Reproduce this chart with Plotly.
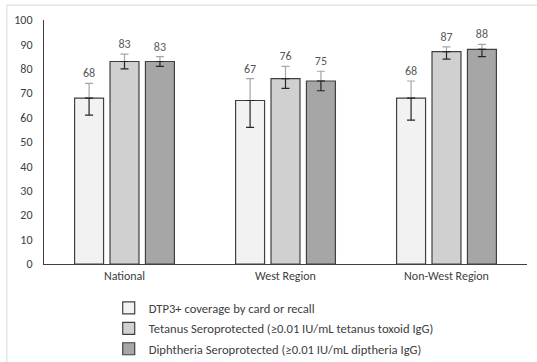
import plotly.graph_objects as go

categories = ["National", "West Region", "Non-West Region"]
series_names = [
    "DTP3+ coverage by card or recall",
    "Tetanus Seroprotected (≥0.01 IU/mL tetanus toxoid IgG)",
    "Diphtheria Seroprotected (≥0.01 IU/mL diptheria IgG)",
]
dtp3 = [68, 67, 68]
dtp3_lo = [61, 56, 59]
dtp3_hi = [74, 76, 75]
tetanus = [83, 76, 87]
tetanus_lo = [80, 72, 84]
tetanus_hi = [86, 81, 89]
diph = [83, 75, 88]
diph_lo = [81, 71, 85]
diph_hi = [85, 79, 90]

values = [dtp3, tetanus, diph]
lows = [dtp3_lo, tetanus_lo, diph_lo]
highs = [dtp3_hi, tetanus_hi, diph_hi]
colors = ["#f2f2f2", "#d0d0d0", "#a6a6a6"]
offsets = [-0.31, -0.09, 0.13]
width = 0.18

FONT = "Carlito, Calibri, Lato, sans-serif"
TXT = "#595959"

fig = go.Figure()
for i in range(3):
    v, lo, hi = values[i], lows[i], highs[i]
    # label carrier (invisible bar up to upper CI)
    fig.add_trace(go.Bar(
        x=categories, y=hi, offset=offsets[i], width=width,
        marker=dict(color="rgba(0,0,0,0)", line=dict(width=0)),
        text=[str(a) for a in v], textposition="outside", cliponaxis=False,
        textfont=dict(family=FONT, size=12, color=TXT),
        showlegend=False, hoverinfo="skip"))
    # upper error part (gray)
    fig.add_trace(go.Bar(
        x=categories, y=v, offset=offsets[i], width=width,
        marker=dict(color="rgba(0,0,0,0)", line=dict(width=0)),
        error_y=dict(type="data", symmetric=False,
                     array=[h - a for h, a in zip(hi, v)],
                     arrayminus=[0] * 3, color="#a6a6a6", thickness=1.2, width=4),
        showlegend=False, hoverinfo="skip"))
    # visible bar with lower error part (dark)
    fig.add_trace(go.Bar(
        x=categories, y=v, offset=offsets[i], width=width, name=series_names[i],
        legendgroup="g%d" % i,
        marker=dict(color=colors[i], line=dict(color="#404040", width=1.2)),
        error_y=dict(type="data", symmetric=False,
                     array=[0] * 3,
                     arrayminus=[a - l for a, l in zip(v, lo)],
                     color="#262626", thickness=1.2, width=4),
        showlegend=True))

fig.update_layout(
    width=537, height=362,
    barmode="overlay",
    margin=dict(l=44, r=10, t=20, b=98, autoexpand=False),
    paper_bgcolor="white", plot_bgcolor="white",
    font=dict(family=FONT, size=12, color=TXT),
    xaxis=dict(range=[-0.5, 2.5], showline=True, linecolor="#404040", linewidth=1.2, ticks="",
               tickfont=dict(family=FONT, size=12, color="#404040"), fixedrange=True),
    yaxis=dict(range=[0, 100], dtick=10, showline=True, linecolor="#404040", linewidth=1.2,
               showgrid=False, zeroline=False, ticks="", ticklabelstandoff=8,
               tickfont=dict(family=FONT, size=12, color="#404040"), fixedrange=True),
    legend=dict(orientation="v", x=0.134, y=-0.12, xanchor="left", yanchor="top",
                font=dict(family=FONT, size=12.6, color="#404040"),
                traceorder="grouped", itemwidth=30, tracegroupgap=1),
    shapes=[dict(type="rect", xref="paper", yref="paper",
                 x0=-0.077, x1=1.06, y0=-0.45, y1=1.061,
                 line=dict(color="#d9d9d9", width=1), fillcolor="rgba(0,0,0,0)")],
)

fig.write_html("out.html", config={"displayModeBar": False},
               post_script="document.body.style.margin='0';")
